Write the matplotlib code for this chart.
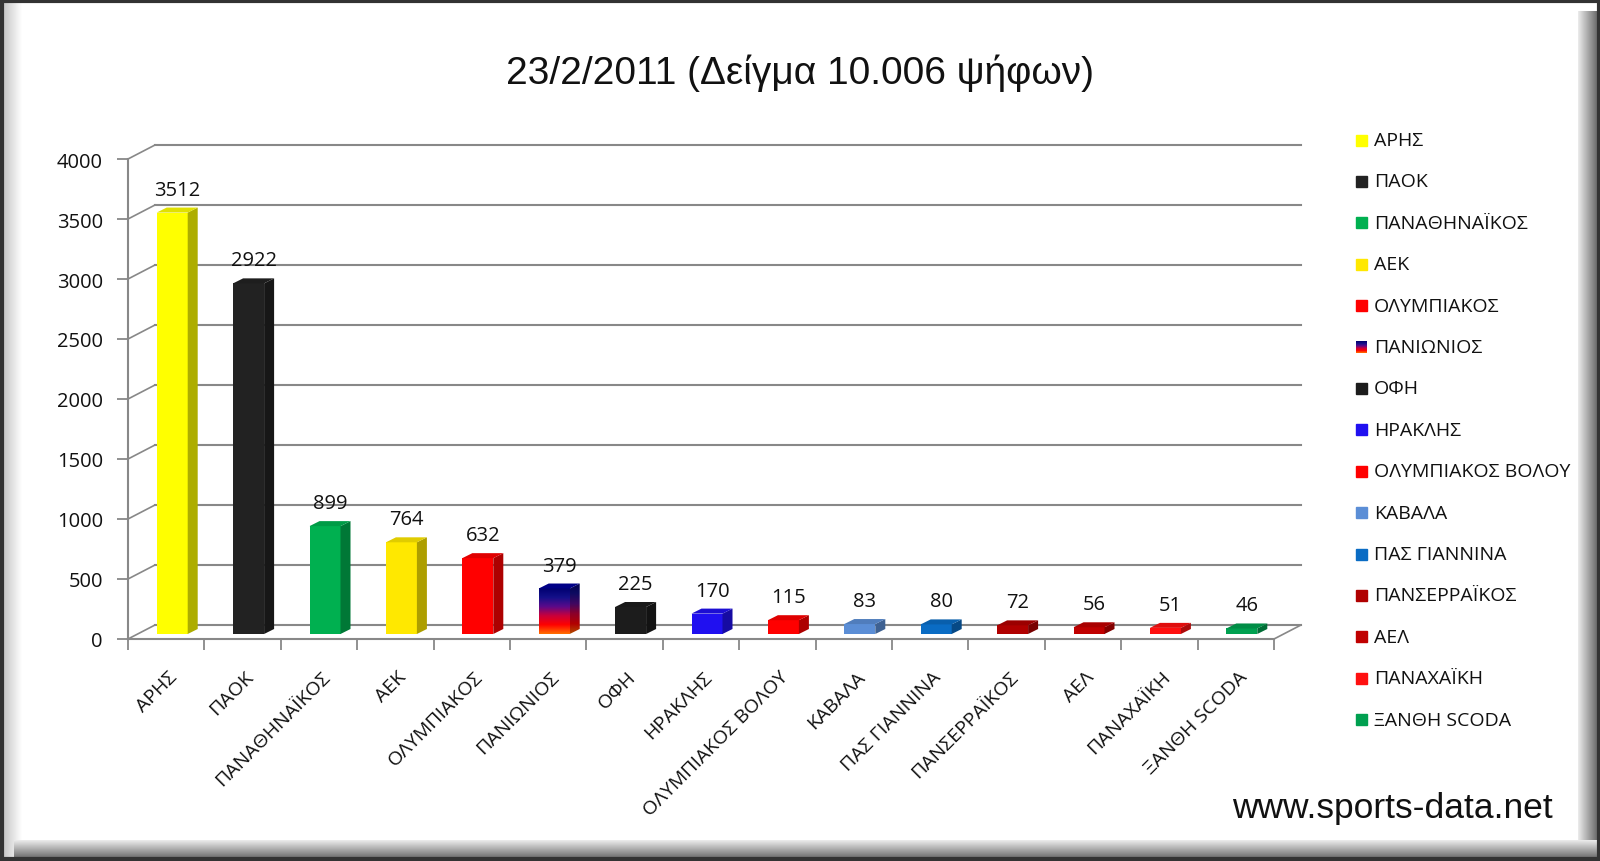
import matplotlib
matplotlib.use('Agg')
import matplotlib.pyplot as plt
import numpy as np
from matplotlib.patches import Rectangle, Polygon
from matplotlib.colors import to_rgb, LinearSegmentedColormap

# ---------------- data ----------------
title = "23/2/2011 (Δείγμα 10.006 ψήφων)"
teams = ["ΑΡΗΣ", "ΠΑΟΚ", "ΠΑΝΑΘΗΝΑΪΚΟΣ", "ΑΕΚ", "ΟΛΥΜΠΙΑΚΟΣ", "ΠΑΝΙΩΝΙΟΣ", "ΟΦΗ",
         "ΗΡΑΚΛΗΣ", "ΟΛΥΜΠΙΑΚΟΣ ΒΟΛΟΥ", "ΚΑΒΑΛΑ", "ΠΑΣ ΓΙΑΝΝΙΝΑ", "ΠΑΝΣΕΡΡΑΪΚΟΣ",
         "ΑΕΛ", "ΠΑΝΑΧΑΪΚΗ", "ΞΑΝΘΗ SCODA"]
votes = [3512, 2922, 899, 764, 632, 379, 225, 170, 115, 83, 80, 72, 56, 51, 46]
colors = ["#FFFF00", "#222222", "#00B050", "#FFE800", "#FF0000", None, "#1C1C1C",
          "#2010F0", "#FF0000", "#5B8ED6", "#0A6CC4", "#B00000", "#C00000", "#FF1010", "#00A050"]
panionios_gradient = ["#FF7000", "#FF0000", "#C8003C", "#5A0A8A", "#14108A", "#000070"]  # bottom -> top
yticks = [0, 500, 1000, 1500, 2000, 2500, 3000, 3500, 4000]
watermark = "www.sports-data.net"

LBL_FONT = ["Open Sans", "DejaVu Sans"]
ARIAL = ["Liberation Sans", "DejaVu Sans"]
GRID = "#888888"
TXT = "#111111"

W, H = 1600, 862
fig = plt.figure(figsize=(W / 100, H / 100), dpi=100)
fig.patch.set_facecolor("white")

# background axes in pixel coordinates (frame, title, legend, watermark)
bg = fig.add_axes([0, 0, 1, 1])
bg.set_xlim(0, W)
bg.set_ylim(H, 0)
bg.axis("off")

def grad_box(x0, x1, y0, y1, c0, c1, horizontal=True):
    cm = LinearSegmentedColormap.from_list("g", [c0, c1])
    g = np.linspace(0, 1, 64)
    img = g[None, :] if horizontal else g[:, None]
    bg.imshow(img, cmap=cm, extent=[x0, x1, y1, y0], aspect="auto", zorder=1,
              interpolation="bilinear")

grad_box(3, 22, 3, H - 3, "#c4c4c4", "#ffffff", True)          # left soft shade
grad_box(1578, W - 2, 12, H - 3, "#ececec", "#666666", True)    # right bevel
grad_box(14, W - 2, 841, H - 2, "#ececec", "#666666", False)    # bottom bevel
bg.add_patch(Rectangle((1.5, 1.5), W - 3, H - 3, fill=False, ec="#333333", lw=3, zorder=5))

bg.text(800, 73, title, fontsize=28, family=ARIAL, ha="center", va="center", color=TXT)
bg.text(1553, 809, watermark, fontsize=25.5, family=ARIAL, ha="right", va="center", color=TXT)

# legend (manual, Excel-like)
for k, (name, c) in enumerate(zip(teams, colors)):
    yy = 141 + 41.4 * k
    if c is None:
        cm = LinearSegmentedColormap.from_list("pan", panionios_gradient)
        bg.imshow(np.linspace(0, 1, 32)[:, None], cmap=cm, origin="lower",
                  extent=[1356, 1367, yy + 5.5, yy - 5.5], aspect="auto", zorder=3)
    else:
        bg.add_patch(Rectangle((1356, yy - 5.5), 11, 11, color=c, zorder=3))
    bg.text(1374, yy, name, fontsize=14, family=LBL_FONT, va="center", ha="left", color=TXT)
bg.set_xlim(0, W)
bg.set_ylim(H, 0)

# ---------------- main chart axes (front plane) ----------------
X0, X1, Y0, YT = 128, 1274, 640, 160
n = len(teams)
ymax = yticks[-1]
ax = fig.add_axes([X0 / W, 1 - Y0 / H, (X1 - X0) / W, (Y0 - YT) / H])
ax.patch.set_alpha(0)
ax.set_xlim(0, n)
ax.set_ylim(0, ymax)
sx = (X1 - X0) / n
sy = (Y0 - YT) / ymax
px2x = lambda p: p / sx
px2y = lambda p: p / sy

# walls / gridlines
wx, wy = px2x(27), px2y(14)
for v in yticks:
    ax.plot([wx, n + wx], [v + wy, v + wy], color=GRID, lw=1.5, clip_on=False, zorder=1)
    ax.plot([0, wx], [v, v + wy], color=GRID, lw=1.2, clip_on=False, zorder=1)
ax.plot([n, n + wx], [0, wy], color=GRID, lw=1.2, clip_on=False, zorder=1)

for s in ["top", "right"]:
    ax.spines[s].set_visible(False)
for s in ["left", "bottom"]:
    ax.spines[s].set_color(GRID)
    ax.spines[s].set_linewidth(1.5)
ax.set_yticks(yticks)
ax.set_yticklabels([str(v) for v in yticks], fontsize=14.5, family=LBL_FONT, color=TXT)
ax.set_xticks(np.arange(0, n + 1))
ax.set_xticklabels([])
ax.tick_params(axis="both", direction="out", color=GRID, width=1.3, length=8)
ax.tick_params(axis="y", pad=10)

# bars (pseudo 3D)
bw = px2x(31)
shift = px2x(6)
base = px2y(5)
dx, dy = px2x(10), px2y(5)

def shade(c, f):
    r, g, b = to_rgb(c)
    return (min(r * f, 1), min(g * f, 1), min(b * f, 1))

for i, (v, c) in enumerate(zip(votes, colors)):
    x0 = i + 0.5 + shift - bw / 2
    x1 = x0 + bw
    front = Rectangle((x0, base), bw, v, lw=0, zorder=3)
    side = Polygon([(x1, base), (x1, base + v), (x1 + dx, base + v + dy), (x1 + dx, base + dy)],
                   closed=True, lw=0, zorder=3)
    top = Polygon([(x0, base + v), (x1, base + v), (x1 + dx, base + v + dy), (x0 + dx, base + v + dy)],
                  closed=True, lw=0, zorder=3)
    if c is None:
        cm = LinearSegmentedColormap.from_list("pan", panionios_gradient)
        cm_d = LinearSegmentedColormap.from_list("pand", [shade(q, 0.7) for q in panionios_gradient])
        grad = np.linspace(0, 1, 128)[:, None]
        ax.imshow(grad, cmap=cm, origin="lower", extent=[x0, x1, base, base + v],
                  aspect="auto", zorder=3, interpolation="bilinear")
        side.set_facecolor("none")
        ax.add_patch(side)
        im = ax.imshow(grad, cmap=cm_d, origin="lower", extent=[x1, x1 + dx, base, base + v + dy],
                       aspect="auto", zorder=3, interpolation="bilinear")
        im.set_clip_path(side)
        top.set_facecolor(shade(panionios_gradient[-1], 1.2))
        ax.add_patch(top)
    else:
        front.set_facecolor(c)
        side.set_facecolor(shade(c, 0.68))
        top.set_facecolor(shade(c, 0.88))
        ax.add_patch(front)
        ax.add_patch(side)
        ax.add_patch(top)
    ax.annotate(str(v), xy=(x0 + bw / 2 + dx / 2, base + v + dy), xytext=(0, 18),
                textcoords="offset pixels", ha="center", va="center", fontsize=14.5,
                family=LBL_FONT, color=TXT, annotation_clip=False, zorder=4)
    ax.annotate(teams[i], xy=(i + 0.5, 0), xytext=(2, -28), textcoords="offset pixels",
                rotation=45, rotation_mode="anchor", ha="right", va="top", fontsize=14,
                family=LBL_FONT, color=TXT, annotation_clip=False)

ax.set_xlim(0, n)
ax.set_ylim(0, ymax)

fig.savefig("out.png", dpi=100)
